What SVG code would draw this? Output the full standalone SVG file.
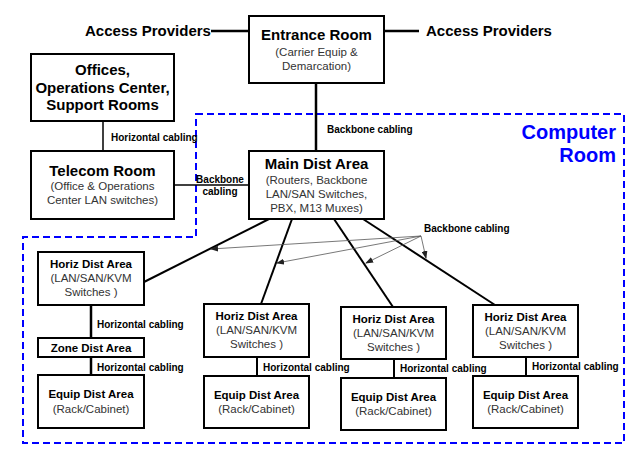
<svg xmlns="http://www.w3.org/2000/svg" width="640" height="454" viewBox="0 0 640 454">
<style>
text{font-family:"Liberation Sans",Arial,sans-serif;text-anchor:middle;fill:#000}
.t15{font-size:15px;font-weight:bold}
.t11b{font-size:11.5px;font-weight:bold}
.sub{font-size:11.5px;fill:#333}
.lbl{font-size:10px;font-weight:bold;text-anchor:start}
.box{fill:#fff;stroke:#000;stroke-width:2}
.cn{stroke:#000;fill:none}
.ptr{stroke:#555;stroke-width:0.8;fill:none}
.cr{fill:none;stroke:#0000ff;stroke-width:2;stroke-dasharray:7 4}
</style>
<defs>
<marker id="ah" markerUnits="userSpaceOnUse" markerWidth="8" markerHeight="6" refX="7" refY="3" orient="auto">
<path d="M0,0 L8,3 L0,6 Z" fill="#222"/>
</marker>
</defs>
<rect width="640" height="454" fill="#fff"/>

<g id="computer-room">
<path class="cr" d="M196,114 H624 V443 H23 V237 H196 Z"/>
<text x="616" y="139" style="font-size:20px;font-weight:bold;fill:#0000ff;text-anchor:end">Computer</text>
<text x="616" y="162" style="font-size:20px;font-weight:bold;fill:#0000ff;text-anchor:end">Room</text>
</g>

<g id="connectors">
<line class="cn" x1="211" y1="31" x2="249" y2="31" stroke-width="2.5"/>
<line class="cn" x1="384" y1="31" x2="419" y2="31" stroke-width="2.5"/>
<line class="cn" x1="316" y1="83" x2="316" y2="151" stroke-width="2.5"/>
<line class="cn" x1="103" y1="121" x2="103" y2="151" stroke-width="1.5"/>
<line class="cn" x1="174" y1="185" x2="249" y2="185" stroke-width="1.5"/>
<line class="cn" x1="269" y1="219" x2="144" y2="282" stroke-width="2"/>
<line class="cn" x1="292" y1="219" x2="261" y2="304" stroke-width="2"/>
<line class="cn" x1="334" y1="219" x2="393" y2="307" stroke-width="2"/>
<line class="cn" x1="363" y1="219" x2="495" y2="305" stroke-width="2"/>
<line class="cn" x1="91" y1="305" x2="91" y2="338" stroke-width="2.5"/>
<line class="cn" x1="91" y1="357" x2="91" y2="375" stroke-width="2.5"/>
<line class="cn" x1="257" y1="357" x2="257" y2="376" stroke-width="2"/>
<line class="cn" x1="394" y1="359" x2="394" y2="378" stroke-width="2"/>
<line class="cn" x1="526" y1="357" x2="526" y2="376" stroke-width="2"/>
<line class="ptr" x1="421" y1="236" x2="211" y2="249" marker-end="url(#ah)"/>
<line class="ptr" x1="421" y1="236" x2="277" y2="263" marker-end="url(#ah)"/>
<line class="ptr" x1="421" y1="236" x2="366" y2="263" marker-end="url(#ah)"/>
<line class="ptr" x1="421" y1="236" x2="426" y2="258" marker-end="url(#ah)"/>
<text class="lbl" x="111" y="141">Horizontal cabling</text>
<text class="lbl" x="327" y="133">Backbone cabling</text>
<text style="font-size:10px;font-weight:bold" x="220" y="183">Backbone</text>
<text style="font-size:10px;font-weight:bold" x="220" y="195">cabling</text>
<text class="lbl" x="424" y="232">Backbone cabling</text>
<text class="lbl" x="97" y="328">Horizontal cabling</text>
<text class="lbl" x="97" y="371">Horizontal cabling</text>
<text class="lbl" x="263" y="371">Horizontal cabling</text>
<text class="lbl" x="400" y="372">Horizontal cabling</text>
<text class="lbl" x="532" y="370">Horizontal cabling</text>
</g>

<g id="access-left"><text class="t15" x="148" y="36">Access Providers</text></g>
<g id="access-right"><text class="t15" x="489" y="36">Access Providers</text></g>

<g id="entrance-room">
<rect class="box" x="249" y="16" width="135" height="67"/>
<text class="t15" x="316.5" y="40">Entrance Room</text>
<text class="sub" x="316.5" y="56">(Carrier Equip &amp;</text>
<text class="sub" x="316.5" y="70">Demarcation)</text>
</g>

<g id="offices">
<rect class="box" x="31" y="54" width="143" height="67"/>
<text class="t15" x="102.5" y="75">Offices,</text>
<text class="t15" x="102.5" y="92.5">Operations Center,</text>
<text class="t15" x="102.5" y="110">Support Rooms</text>
</g>

<g id="telecom-room">
<rect class="box" x="31" y="151" width="143" height="68"/>
<text class="t15" x="102.5" y="176">Telecom Room</text>
<text class="sub" x="102.5" y="190">(Office &amp; Operations</text>
<text class="sub" x="102.5" y="204">Center LAN switches)</text>
</g>

<g id="main-dist-area">
<rect class="box" x="249" y="151" width="135" height="68"/>
<text class="t15" x="316.5" y="169">Main Dist Area</text>
<text class="sub" x="316.5" y="184">(Routers, Backbone</text>
<text class="sub" x="316.5" y="198">LAN/SAN Switches,</text>
<text class="sub" x="316.5" y="212">PBX, M13 Muxes)</text>
</g>

<g id="hda1">
<rect class="box" x="38" y="252" width="106" height="53"/>
<text class="t11b" x="91" y="268">Horiz Dist Area</text>
<text class="sub" x="91" y="282">(LAN/SAN/KVM</text>
<text class="sub" x="91" y="296">Switches )</text>
</g>
<g id="zone-dist-area">
<rect class="box" x="38" y="338" width="106" height="19"/>
<text class="t11b" x="91" y="352">Zone Dist Area</text>
</g>
<g id="eda1">
<rect class="box" x="38" y="375" width="106" height="53"/>
<text class="t11b" x="91" y="398">Equip Dist Area</text>
<text class="sub" x="91" y="413">(Rack/Cabinet)</text>
</g>

<g id="hda2">
<rect class="box" x="204" y="304" width="105" height="53"/>
<text class="t11b" x="256.5" y="320">Horiz Dist Area</text>
<text class="sub" x="256.5" y="334">(LAN/SAN/KVM</text>
<text class="sub" x="256.5" y="348">Switches )</text>
</g>
<g id="eda2">
<rect class="box" x="204" y="376" width="105" height="52"/>
<text class="t11b" x="256.5" y="399">Equip Dist Area</text>
<text class="sub" x="256.5" y="413">(Rack/Cabinet)</text>
</g>

<g id="hda3">
<rect class="box" x="341" y="307" width="105" height="52"/>
<text class="t11b" x="393.5" y="323">Horiz Dist Area</text>
<text class="sub" x="393.5" y="337">(LAN/SAN/KVM</text>
<text class="sub" x="393.5" y="351">Switches )</text>
</g>
<g id="eda3">
<rect class="box" x="341" y="378" width="105" height="52"/>
<text class="t11b" x="393.5" y="401">Equip Dist Area</text>
<text class="sub" x="393.5" y="415">(Rack/Cabinet)</text>
</g>

<g id="hda4">
<rect class="box" x="473" y="305" width="105" height="52"/>
<text class="t11b" x="525.5" y="321">Horiz Dist Area</text>
<text class="sub" x="525.5" y="335">(LAN/SAN/KVM</text>
<text class="sub" x="525.5" y="349">Switches )</text>
</g>
<g id="eda4">
<rect class="box" x="473" y="376" width="105" height="52"/>
<text class="t11b" x="525.5" y="399">Equip Dist Area</text>
<text class="sub" x="525.5" y="413">(Rack/Cabinet)</text>
</g>
</svg>
